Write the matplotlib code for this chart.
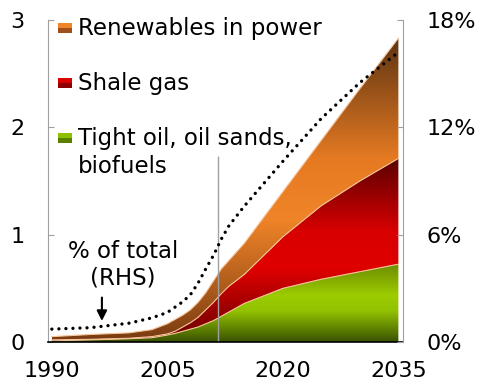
import numpy as np
import matplotlib
matplotlib.use("Agg")
import matplotlib.pyplot as plt
from matplotlib.colors import LinearSegmentedColormap
from matplotlib.patches import PathPatch, Rectangle
from matplotlib.ticker import FuncFormatter

# data (left axis) and share of total (right axis)
years = [1990, 1995, 2000, 2003, 2005, 2006, 2007, 2008, 2009, 2010, 2011, 2012, 2013, 2015, 2020, 2025, 2030, 2035]
tight_oil = [0.01, 0.02, 0.03, 0.04, 0.065, 0.08, 0.10, 0.12, 0.14, 0.17, 0.20, 0.24, 0.28, 0.36, 0.50, 0.585, 0.655, 0.725]
shale_gas = [0.01, 0.005, 0.005, 0.01, 0.01, 0.02, 0.04, 0.06, 0.09, 0.13, 0.17, 0.21, 0.24, 0.27, 0.48, 0.685, 0.845, 0.985]
renewables = [0.03, 0.045, 0.05, 0.065, 0.095, 0.11, 0.11, 0.12, 0.14, 0.16, 0.20, 0.23, 0.24, 0.29, 0.42, 0.61, 0.86, 1.12]
share_pct = [0.72, 0.8, 1.05, 1.35, 1.65, 1.95, 2.25, 2.65, 3.3, 4.1, 4.85, 5.75, 6.5, 7.6, 10.1, 12.5, 14.5, 16.2]

labels = ["Tight oil, oil sands,\nbiofuels", "Shale gas", "Renewables in power"]
xticks = [1990, 2005, 2020, 2035]
yticks_left = [0, 1, 2, 3]
yticks_right = [0, 6, 12, 18]
projection_start = 2011.6

# vertical gradients: dark -> bright -> dark (top to bottom)
grads = [
    ["#6e8c00", "#9ccc00", "#92c200", "#3a5200"],
    ["#5a0000", "#d80000", "#e00000", "#680000"],
    ["#5c3412", "#e67a22", "#f08428", "#7a3c12"],
]
legend_cols = [("#8cc000", "#5a8000"), ("#d80000", "#900000"), ("#f08428", "#a0501a")]

W, H = 484, 390
fig = plt.figure(figsize=(W / 100, H / 100), dpi=100)
ax = fig.add_axes([48 / W, 48 / H, 355 / W, 322 / H])

x = np.array(years, dtype=float)
layers = [np.array(tight_oil), np.array(shale_gas), np.array(renewables)]
bottom = np.zeros_like(x)
for i, vals in enumerate(layers):
    top = bottom + vals
    poly = ax.fill_between(x, bottom, top, color="none", lw=0)
    patch = PathPatch(poly.get_paths()[0], transform=ax.transData, fc="none", ec="none")
    ax.add_patch(patch)
    cmap = LinearSegmentedColormap.from_list(f"g{i}", list(zip([0, 0.4, 0.6, 1], grads[i])))
    g = np.linspace(0, 1, 256).reshape(-1, 1)
    im = ax.imshow(g, cmap=cmap, aspect="auto", origin="upper",
                   extent=[x[0], x[-1], bottom.min(), top.max()], zorder=2 + i)
    im.set_clip_path(patch)
    ax.plot(x, top, color="#f6c49a", lw=0.8, zorder=5)
    bottom = top

ax.vlines(projection_start, 0, 1.73, color="#a0a0a0", lw=1, zorder=6)

ax.set_xlim(1989.5, 2035.6)
ax.set_ylim(0, 3)
ax.set_xticks(xticks)
ax.set_yticks(yticks_left)
ax.tick_params(axis="x", length=0, pad=14, labelsize=16)
ax.tick_params(axis="y", direction="in", length=4, color="#a0a0a0", pad=17, labelsize=16)
for s in ["top", "right"]:
    ax.spines[s].set_visible(False)
ax.spines["left"].set_color("#a0a0a0")
ax.spines["bottom"].set_color("black")
ax.spines["bottom"].set_linewidth(1.2)
ax.spines["bottom"].set_zorder(10)

ax2 = ax.twinx()
ax2.plot(x, share_pct, color="black", lw=2.4, linestyle=(0, (0.01, 2.1)),
         dash_capstyle="round", zorder=7)
ax2.set_ylim(0, 18)
ax2.set_yticks(yticks_right)
ax2.yaxis.set_major_formatter(FuncFormatter(lambda v, p: f"{v:.0f}%"))
ax2.tick_params(axis="y", direction="in", length=4, color="#a0a0a0", pad=17, labelsize=16)
for s in ["top", "left", "bottom"]:
    ax2.spines[s].set_visible(False)
ax2.spines["right"].set_color("#a0a0a0")

# annotation for the dotted line
ax.text(1999.2, 0.785, "% of total", ha="center", va="baseline", fontsize=16.5)
ax.text(1999.2, 0.54, "(RHS)", ha="center", va="baseline", fontsize=16.5)
ax.annotate("", xy=(1996.5, 0.17), xytext=(1996.5, 0.44),
            arrowprops=dict(arrowstyle="-|>,head_length=0.6,head_width=0.3", color="black", lw=1.5))

# legend as plain text with small two-tone squares
leg_rows = [(35, [labels[2]]), (90, [labels[1]]), (145, labels[0].split("\n"))]
for (base, lines), (c1, c2) in zip(leg_rows, legend_cols[::-1]):
    fig.patches.append(Rectangle((58 / W, 1 - (base - 7) / H), 14 / W, 5 / H,
                                 transform=fig.transFigure, fc=c1, ec="none"))
    fig.patches.append(Rectangle((58 / W, 1 - (base - 2) / H), 14 / W, 5 / H,
                                 transform=fig.transFigure, fc=c2, ec="none"))
    for k, t in enumerate(lines):
        fig.text(78 / W, 1 - (base + 28 * k) / H, t, ha="left", va="baseline", fontsize=16.5)

fig.savefig("out.png", dpi=100)
